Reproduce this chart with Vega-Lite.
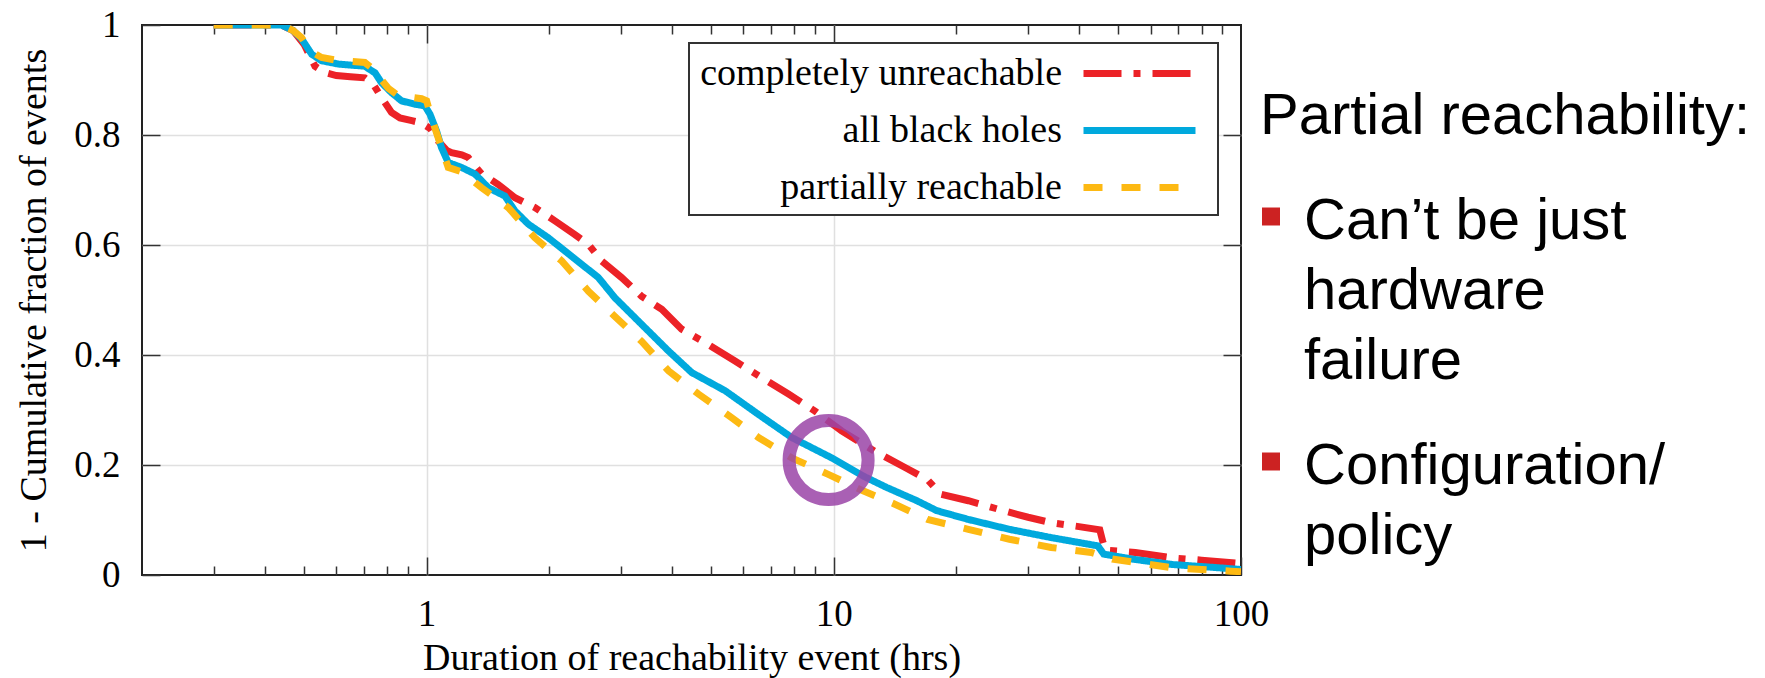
{
  "$schema": "https://vega.github.io/schema/vega-lite/v6.json",
  "autosize": {"type": "pad"},
  "padding": {"left": 14, "top": 5, "right": 0, "bottom": 0},
  "background": "white",
  "bounds": "flush",
  "spacing": 19,
  "config": {
    "view": {"stroke": null},
    "legend": {"strokeWidth": 2},
    "axis": {
      "labelFont": "Liberation Serif",
      "labelFontSize": 37,
      "labelColor": "#000",
      "titleFont": "Liberation Serif",
      "titleFontSize": 38,
      "titleFontWeight": "normal",
      "titleColor": "#000",
      "tickColor": "#333",
      "tickWidth": 1.5
    }
  },
  "hconcat": [
    {
      "width": 1099,
      "height": 550,
      "view": {"stroke": "#222", "strokeWidth": 2},
      "data": {
        "values": [
          {"series": "completely unreachable", "hrs": 0.3, "frac": 1.0},
          {"series": "completely unreachable", "hrs": 0.44, "frac": 1.0},
          {"series": "completely unreachable", "hrs": 0.47, "frac": 0.99},
          {"series": "completely unreachable", "hrs": 0.5, "frac": 0.965},
          {"series": "completely unreachable", "hrs": 0.532, "frac": 0.925},
          {"series": "completely unreachable", "hrs": 0.56, "frac": 0.914},
          {"series": "completely unreachable", "hrs": 0.6, "frac": 0.908},
          {"series": "completely unreachable", "hrs": 0.65, "frac": 0.906},
          {"series": "completely unreachable", "hrs": 0.705, "frac": 0.904},
          {"series": "completely unreachable", "hrs": 0.74, "frac": 0.892},
          {"series": "completely unreachable", "hrs": 0.775, "frac": 0.868},
          {"series": "completely unreachable", "hrs": 0.82, "frac": 0.841},
          {"series": "completely unreachable", "hrs": 0.86, "frac": 0.831},
          {"series": "completely unreachable", "hrs": 0.92, "frac": 0.826},
          {"series": "completely unreachable", "hrs": 0.97, "frac": 0.822},
          {"series": "completely unreachable", "hrs": 1.02, "frac": 0.812},
          {"series": "completely unreachable", "hrs": 1.068, "frac": 0.789},
          {"series": "completely unreachable", "hrs": 1.12, "frac": 0.772},
          {"series": "completely unreachable", "hrs": 1.152, "frac": 0.768},
          {"series": "completely unreachable", "hrs": 1.22, "frac": 0.764},
          {"series": "completely unreachable", "hrs": 1.266, "frac": 0.759},
          {"series": "completely unreachable", "hrs": 1.32, "frac": 0.742},
          {"series": "completely unreachable", "hrs": 1.365, "frac": 0.729},
          {"series": "completely unreachable", "hrs": 1.43, "frac": 0.72},
          {"series": "completely unreachable", "hrs": 1.5, "frac": 0.71},
          {"series": "completely unreachable", "hrs": 1.648, "frac": 0.686},
          {"series": "completely unreachable", "hrs": 1.845, "frac": 0.668},
          {"series": "completely unreachable", "hrs": 2.066, "frac": 0.644},
          {"series": "completely unreachable", "hrs": 2.313, "frac": 0.619},
          {"series": "completely unreachable", "hrs": 2.497, "frac": 0.601},
          {"series": "completely unreachable", "hrs": 2.69, "frac": 0.571},
          {"series": "completely unreachable", "hrs": 3.01, "frac": 0.541},
          {"series": "completely unreachable", "hrs": 3.37, "frac": 0.507},
          {"series": "completely unreachable", "hrs": 3.78, "frac": 0.483},
          {"series": "completely unreachable", "hrs": 4.23, "frac": 0.447},
          {"series": "completely unreachable", "hrs": 4.92, "frac": 0.419},
          {"series": "completely unreachable", "hrs": 5.72, "frac": 0.389},
          {"series": "completely unreachable", "hrs": 6.65, "frac": 0.359},
          {"series": "completely unreachable", "hrs": 7.74, "frac": 0.329},
          {"series": "completely unreachable", "hrs": 8.99, "frac": 0.298},
          {"series": "completely unreachable", "hrs": 10.45, "frac": 0.262},
          {"series": "completely unreachable", "hrs": 12.6, "frac": 0.225},
          {"series": "completely unreachable", "hrs": 15, "frac": 0.195},
          {"series": "completely unreachable", "hrs": 17, "frac": 0.173},
          {"series": "completely unreachable", "hrs": 18.3, "frac": 0.147},
          {"series": "completely unreachable", "hrs": 21.4, "frac": 0.135},
          {"series": "completely unreachable", "hrs": 25.8, "frac": 0.118},
          {"series": "completely unreachable", "hrs": 30, "frac": 0.105},
          {"series": "completely unreachable", "hrs": 34.2, "frac": 0.095},
          {"series": "completely unreachable", "hrs": 40, "frac": 0.088},
          {"series": "completely unreachable", "hrs": 45, "frac": 0.082},
          {"series": "completely unreachable", "hrs": 45.8, "frac": 0.06},
          {"series": "completely unreachable", "hrs": 46.5, "frac": 0.045},
          {"series": "completely unreachable", "hrs": 55, "frac": 0.041},
          {"series": "completely unreachable", "hrs": 68, "frac": 0.031},
          {"series": "completely unreachable", "hrs": 80, "frac": 0.027},
          {"series": "completely unreachable", "hrs": 100, "frac": 0.021},
          {"series": "all black holes", "hrs": 0.3, "frac": 1.0},
          {"series": "all black holes", "hrs": 0.44, "frac": 1.0},
          {"series": "all black holes", "hrs": 0.47, "frac": 0.99},
          {"series": "all black holes", "hrs": 0.493, "frac": 0.975},
          {"series": "all black holes", "hrs": 0.522, "frac": 0.947},
          {"series": "all black holes", "hrs": 0.552, "frac": 0.935},
          {"series": "all black holes", "hrs": 0.607, "frac": 0.929},
          {"series": "all black holes", "hrs": 0.705, "frac": 0.925},
          {"series": "all black holes", "hrs": 0.747, "frac": 0.913},
          {"series": "all black holes", "hrs": 0.775, "frac": 0.895},
          {"series": "all black holes", "hrs": 0.82, "frac": 0.877},
          {"series": "all black holes", "hrs": 0.868, "frac": 0.862},
          {"series": "all black holes", "hrs": 0.936, "frac": 0.856},
          {"series": "all black holes", "hrs": 0.99, "frac": 0.853},
          {"series": "all black holes", "hrs": 1.019, "frac": 0.838},
          {"series": "all black holes", "hrs": 1.058, "frac": 0.807},
          {"series": "all black holes", "hrs": 1.088, "frac": 0.777},
          {"series": "all black holes", "hrs": 1.13, "frac": 0.75},
          {"series": "all black holes", "hrs": 1.219, "frac": 0.741},
          {"series": "all black holes", "hrs": 1.315, "frac": 0.729},
          {"series": "all black holes", "hrs": 1.418, "frac": 0.704},
          {"series": "all black holes", "hrs": 1.557, "frac": 0.689},
          {"series": "all black holes", "hrs": 1.648, "frac": 0.662},
          {"series": "all black holes", "hrs": 1.777, "frac": 0.638},
          {"series": "all black holes", "hrs": 1.991, "frac": 0.613},
          {"series": "all black holes", "hrs": 2.187, "frac": 0.589},
          {"series": "all black holes", "hrs": 2.402, "frac": 0.565},
          {"series": "all black holes", "hrs": 2.64, "frac": 0.541},
          {"series": "all black holes", "hrs": 2.9, "frac": 0.504},
          {"series": "all black holes", "hrs": 3.37, "frac": 0.456},
          {"series": "all black holes", "hrs": 3.93, "frac": 0.407},
          {"series": "all black holes", "hrs": 4.48, "frac": 0.368},
          {"series": "all black holes", "hrs": 5.41, "frac": 0.335},
          {"series": "all black holes", "hrs": 6.53, "frac": 0.292},
          {"series": "all black holes", "hrs": 7.88, "frac": 0.25},
          {"series": "all black holes", "hrs": 9.88, "frac": 0.213},
          {"series": "all black holes", "hrs": 11.8, "frac": 0.18},
          {"series": "all black holes", "hrs": 13.5, "frac": 0.159},
          {"series": "all black holes", "hrs": 16, "frac": 0.135},
          {"series": "all black holes", "hrs": 17.9, "frac": 0.117},
          {"series": "all black holes", "hrs": 21.4, "frac": 0.101},
          {"series": "all black holes", "hrs": 27, "frac": 0.083},
          {"series": "all black holes", "hrs": 34.2, "frac": 0.068},
          {"series": "all black holes", "hrs": 44.5, "frac": 0.053},
          {"series": "all black holes", "hrs": 46, "frac": 0.038},
          {"series": "all black holes", "hrs": 54, "frac": 0.029},
          {"series": "all black holes", "hrs": 68, "frac": 0.019},
          {"series": "all black holes", "hrs": 85, "frac": 0.014},
          {"series": "all black holes", "hrs": 100, "frac": 0.01},
          {"series": "partially reachable", "hrs": 0.3, "frac": 1.0},
          {"series": "partially reachable", "hrs": 0.44, "frac": 1.0},
          {"series": "partially reachable", "hrs": 0.47, "frac": 0.99},
          {"series": "partially reachable", "hrs": 0.493, "frac": 0.977},
          {"series": "partially reachable", "hrs": 0.52, "frac": 0.952},
          {"series": "partially reachable", "hrs": 0.552, "frac": 0.941},
          {"series": "partially reachable", "hrs": 0.6, "frac": 0.936},
          {"series": "partially reachable", "hrs": 0.705, "frac": 0.932},
          {"series": "partially reachable", "hrs": 0.745, "frac": 0.918},
          {"series": "partially reachable", "hrs": 0.775, "frac": 0.9},
          {"series": "partially reachable", "hrs": 0.805, "frac": 0.885},
          {"series": "partially reachable", "hrs": 0.85, "frac": 0.872},
          {"series": "partially reachable", "hrs": 0.972, "frac": 0.866},
          {"series": "partially reachable", "hrs": 1.0, "frac": 0.862},
          {"series": "partially reachable", "hrs": 1.02, "frac": 0.84},
          {"series": "partially reachable", "hrs": 1.048, "frac": 0.813},
          {"series": "partially reachable", "hrs": 1.088, "frac": 0.777},
          {"series": "partially reachable", "hrs": 1.13, "frac": 0.741},
          {"series": "partially reachable", "hrs": 1.22, "frac": 0.733},
          {"series": "partially reachable", "hrs": 1.365, "frac": 0.704},
          {"series": "partially reachable", "hrs": 1.45, "frac": 0.69},
          {"series": "partially reachable", "hrs": 1.587, "frac": 0.668},
          {"series": "partially reachable", "hrs": 1.845, "frac": 0.613},
          {"series": "partially reachable", "hrs": 2.147, "frac": 0.571},
          {"series": "partially reachable", "hrs": 2.497, "frac": 0.516},
          {"series": "partially reachable", "hrs": 2.9, "frac": 0.47},
          {"series": "partially reachable", "hrs": 3.37, "frac": 0.425},
          {"series": "partially reachable", "hrs": 3.93, "frac": 0.371},
          {"series": "partially reachable", "hrs": 4.65, "frac": 0.329},
          {"series": "partially reachable", "hrs": 5.61, "frac": 0.286},
          {"series": "partially reachable", "hrs": 6.53, "frac": 0.25},
          {"series": "partially reachable", "hrs": 7.88, "frac": 0.213},
          {"series": "partially reachable", "hrs": 9.69, "frac": 0.183},
          {"series": "partially reachable", "hrs": 11.8, "frac": 0.153},
          {"series": "partially reachable", "hrs": 14, "frac": 0.13},
          {"series": "partially reachable", "hrs": 17, "frac": 0.101},
          {"series": "partially reachable", "hrs": 21.4, "frac": 0.083},
          {"series": "partially reachable", "hrs": 27, "frac": 0.065},
          {"series": "partially reachable", "hrs": 34.2, "frac": 0.05},
          {"series": "partially reachable", "hrs": 42.9, "frac": 0.041},
          {"series": "partially reachable", "hrs": 45, "frac": 0.036},
          {"series": "partially reachable", "hrs": 48.3, "frac": 0.029},
          {"series": "partially reachable", "hrs": 68, "frac": 0.013},
          {"series": "partially reachable", "hrs": 94.4, "frac": 0.007},
          {"series": "partially reachable", "hrs": 100, "frac": 0.006}
        ]
      },
      "resolve": {"axis": {"x": "independent", "y": "independent"}},
      "layer": [
        {
          "transform": [{"filter": "datum.series === 'completely unreachable'"}],
          "mark": {"type": "line", "strokeWidth": 7, "clip": true, "strokeCap": "butt"},
          "encoding": {
            "x": {
              "field": "hrs", "type": "quantitative",
              "scale": {"type": "log", "domain": [0.2, 100], "nice": false},
              "axis": {
                "orient": "bottom", "values": [1, 10, 100], "format": "~g",
                "title": "Duration of reachability event (hrs)",
                "tickSize": -18, "domain": false,
                "grid": true, "gridColor": "#e0e0e0", "gridWidth": 1.5,
                "gridOpacity": {"condition": {"test": "datum.value > 50", "value": 0}, "value": 1},
                "labelPadding": 39, "labelFlush": false, "labelOverlap": false,
                "titlePadding": 7
              }
            },
            "y": {
              "field": "frac", "type": "quantitative",
              "scale": {"domain": [0, 1], "nice": false},
              "axis": {
                "orient": "left", "values": [0, 0.2, 0.4, 0.6, 0.8, 1], "format": "~g",
                "title": "1 - Cumulative fraction of events",
                "tickSize": -18, "domain": false,
                "grid": true, "gridColor": "#e0e0e0", "gridWidth": 1.5,
                "gridOpacity": {"condition": {"test": "datum.value < 0.01 || datum.value > 0.99", "value": 0}, "value": 1},
                "labelPadding": 40, "labelFlush": false, "labelOverlap": false,
                "titlePadding": 20
              }
            },
            "color": {
              "field": "series", "type": "nominal", "title": null,
              "scale": {
                "domain": ["completely unreachable", "all black holes", "partially reachable"],
                "range": ["#ec2227", "#00a9dd", "#fdb913"]
              },
              "legend": {
                "orient": "none", "legendX": 547, "legendY": 18,
                "padding": 8, "strokeColor": "#333", "fillColor": "white",
                "labelFont": "Liberation Serif", "labelFontSize": 38, "labelColor": "#000",
                "labelAlign": "right", "labelOffset": -100, "labelLimit": 0,
                "symbolOffset": 420, "symbolType": "M-2.947,0H2.947",
                "symbolSize": 1444, "symbolStrokeWidth": 7, "rowPadding": 15
              }
            },
            "strokeDash": {
              "field": "series", "type": "nominal", "title": null,
              "scale": {
                "domain": ["completely unreachable", "all black holes", "partially reachable"],
                "range": [[38, 12, 7, 12], [1, 0], [19, 19]]
              },
              "legend": {
                "orient": "none", "legendX": 547, "legendY": 18,
                "padding": 8, "strokeColor": "#333", "fillColor": "white",
                "labelFont": "Liberation Serif", "labelFontSize": 38, "labelColor": "#000",
                "labelAlign": "right", "labelOffset": -100, "labelLimit": 0,
                "symbolOffset": 420, "symbolType": "M-2.947,0H2.947",
                "symbolSize": 1444, "symbolStrokeWidth": 7, "rowPadding": 15
              }
            }
          }
        },
        {
          "transform": [{"filter": "datum.series === 'all black holes'"}],
          "mark": {"type": "line", "strokeWidth": 7, "clip": true, "strokeCap": "butt"},
          "encoding": {
            "x": {
              "field": "hrs", "type": "quantitative",
              "scale": {"type": "log", "domain": [0.2, 100], "nice": false},
              "axis": {
                "orient": "bottom",
                "values": [0.3, 0.4, 0.5, 0.6, 0.7, 0.8, 0.9, 2, 3, 4, 5, 6, 7, 8, 9, 20, 30, 40, 50, 60, 70, 80, 90],
                "labels": false, "title": null, "tickSize": -9, "domain": false, "grid": false
              }
            },
            "y": {
              "field": "frac", "type": "quantitative",
              "scale": {"domain": [0, 1], "nice": false},
              "axis": {
                "orient": "right", "values": [0.2, 0.4, 0.6, 0.8],
                "labels": false, "title": null, "tickSize": -18, "domain": false, "grid": false
              }
            },
            "color": {"field": "series", "type": "nominal", "title": null,
              "scale": {"domain": ["completely unreachable", "all black holes", "partially reachable"], "range": ["#ec2227", "#00a9dd", "#fdb913"]}},
            "strokeDash": {"field": "series", "type": "nominal", "title": null,
              "scale": {"domain": ["completely unreachable", "all black holes", "partially reachable"], "range": [[38, 12, 7, 12], [1, 0], [19, 19]]}}
          }
        },
        {
          "transform": [{"filter": "datum.series === 'partially reachable'"}],
          "mark": {"type": "line", "strokeWidth": 7, "clip": true, "strokeCap": "butt"},
          "encoding": {
            "x": {
              "field": "hrs", "type": "quantitative",
              "scale": {"type": "log", "domain": [0.2, 100], "nice": false},
              "axis": {
                "orient": "top", "values": [1, 10],
                "labels": false, "title": null, "tickSize": -18, "domain": false, "grid": false
              }
            },
            "y": {
              "field": "frac", "type": "quantitative",
              "scale": {"domain": [0, 1], "nice": false},
              "axis": null
            },
            "color": {"field": "series", "type": "nominal", "title": null,
              "scale": {"domain": ["completely unreachable", "all black holes", "partially reachable"], "range": ["#ec2227", "#00a9dd", "#fdb913"]}},
            "strokeDash": {"field": "series", "type": "nominal", "title": null,
              "scale": {"domain": ["completely unreachable", "all black holes", "partially reachable"], "range": [[38, 12, 7, 12], [1, 0], [19, 19]]}}
          }
        },
        {
          "data": {"values": [{"hrs": 9.71, "frac": 0.209}]},
          "mark": {"type": "point", "shape": "circle", "filled": false, "size": 6241, "strokeWidth": 13, "color": "#9b45a8", "opacity": 0.85},
          "encoding": {
            "x": {
              "field": "hrs", "type": "quantitative",
              "scale": {"type": "log", "domain": [0.2, 100], "nice": false},
              "axis": {
                "orient": "top",
                "values": [0.3, 0.4, 0.5, 0.6, 0.7, 0.8, 0.9, 2, 3, 4, 5, 6, 7, 8, 9, 20, 30, 40, 50, 60, 70, 80, 90],
                "labels": false, "title": null, "tickSize": -9, "domain": false, "grid": false
              }
            },
            "y": {
              "field": "frac", "type": "quantitative",
              "scale": {"domain": [0, 1], "nice": false},
              "axis": null
            }
          }
        }
      ]
    },
    {
      "width": 44,
      "height": 560,
      "view": {"stroke": null},
      "data": {
        "values": [
          {"text": "Partial reachability:", "level": 0, "line": 0, "bullet": false},
          {"text": "Can’t be just", "level": 1, "line": 1.5, "bullet": true},
          {"text": "hardware", "level": 1, "line": 2.5, "bullet": false},
          {"text": "failure", "level": 1, "line": 3.5, "bullet": false},
          {"text": "Configuration/", "level": 1, "line": 5, "bullet": true},
          {"text": "policy", "level": 1, "line": 6, "bullet": false}
        ]
      },
      "layer": [
        {
          "mark": {"type": "text", "align": "left", "baseline": "alphabetic", "font": "Liberation Sans", "fontSize": 58, "color": "#000"},
          "encoding": {
            "x": {"field": "level", "type": "quantitative", "scale": {"domain": [0, 1], "nice": false, "zero": false}, "axis": null},
            "y": {"field": "line", "type": "quantitative", "scale": {"domain": [-1.55, 6.45], "nice": false, "zero": false, "reverse": true}, "axis": null},
            "text": {"field": "text", "type": "nominal"}
          }
        },
        {
          "transform": [{"filter": "datum.bullet"}],
          "mark": {"type": "square", "size": 324, "color": "#cc2222", "opacity": 1, "strokeWidth": 0, "yOffset": -22},
          "encoding": {
            "x": {"datum": 0.25, "type": "quantitative", "scale": {"domain": [0, 1], "nice": false, "zero": false}, "axis": null},
            "y": {"field": "line", "type": "quantitative", "scale": {"domain": [-1.55, 6.45], "nice": false, "zero": false, "reverse": true}, "axis": null}
          }
        }
      ]
    }
  ]
}
